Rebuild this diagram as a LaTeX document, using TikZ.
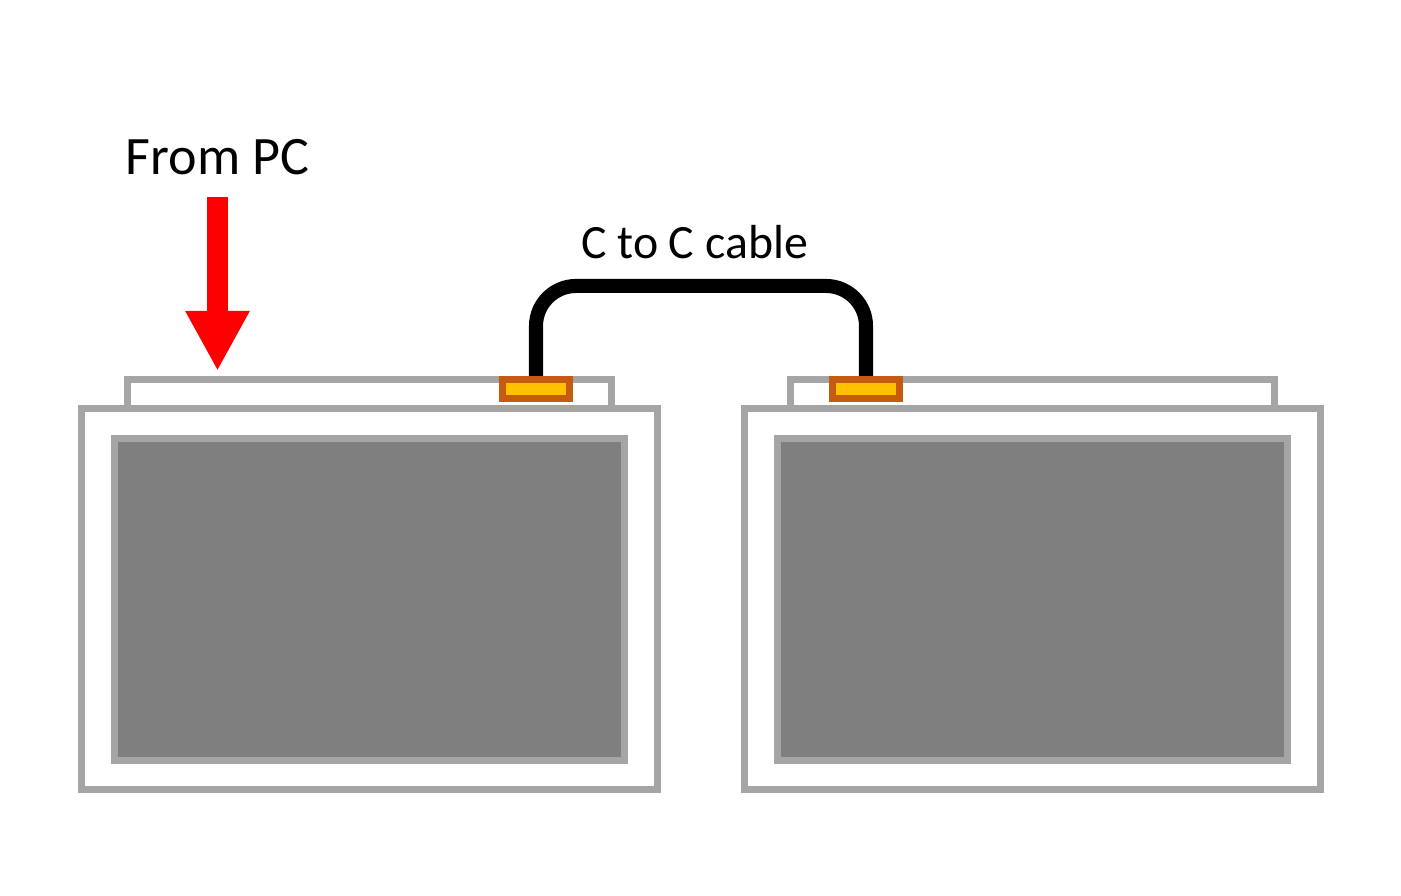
\documentclass[tikz,border=0pt]{standalone}
\usepackage{fontspec}
\setmainfont{Carlito}
\usepackage{tikz}
\usetikzlibrary{positioning, arrows.meta, calc}
\usepackage{xcolor}
\definecolor{monframe}{HTML}{A5A5A5}
\definecolor{monscreen}{HTML}{7F7F7F}
\definecolor{plugedge}{HTML}{C55A11}
\definecolor{plugfill}{HTML}{FFC000}
\definecolor{pcred}{HTML}{FF0000}

\begin{document}
\begin{tikzpicture}[
  frame/.style={draw=monframe, line width=2pt, fill=white, inner sep=0pt, minimum height=3.81cm},
  screen/.style={draw=monframe, line width=2pt, fill=monscreen, inner sep=0pt, minimum width=5.1cm, minimum height=3.22cm},
  stand/.style={draw=monframe, line width=2pt, fill=white, inner sep=0pt, minimum height=0.29cm},
  plug/.style={draw=plugedge, line width=2pt, fill=plugfill, inner sep=0pt, minimum width=0.67cm, minimum height=0.19cm},
  cable/.style={draw=black, line width=4pt, rounded corners=0.4cm},
  feed/.style={draw=pcred, line width=0.21cm, -{Triangle[width=0.6cm, length=0.6cm]}},
  lbl/.style={inner sep=0pt, text=black}
]
\useasboundingbox (0,0) rectangle (14.01,8.96);
% left monitor
\node[stand, minimum width=4.84cm] (standL) at (3.695,5.02) {};
\node[frame, minimum width=5.755cm] (monL) at (3.6925,2.97) {};
\node[screen] (scrL) at (3.695,2.965) {};
\node[plug] (plugL) at (5.36,5.07) {};
% right monitor
\node[stand, minimum width=4.845cm] (standR) at (10.3225,5.02) {};
\node[frame, minimum width=5.76cm] (monR) at (10.325,2.97) {};
\node[screen] (scrR) at (10.325,2.965) {};
\node[plug] (plugR) at (8.66,5.07) {};
% cable between the two plugs
\draw[cable] (plugL.north) -- ++(0,0.9) -| (plugR.north);
\node[lbl, font=\fontsize{13.6}{16}\selectfont] (cableLbl) at (6.945,6.54) {C to C cable};
% input from the PC
\node[lbl, font=\fontsize{15.4}{18}\selectfont] (fromPC) at (2.175,7.39) {From PC};
\coordinate (pcIn) at (2.175,6.99);
\draw[feed, shorten >=0.05cm] (pcIn) -- (pcIn |- standL.north);
\end{tikzpicture}
\end{document}
